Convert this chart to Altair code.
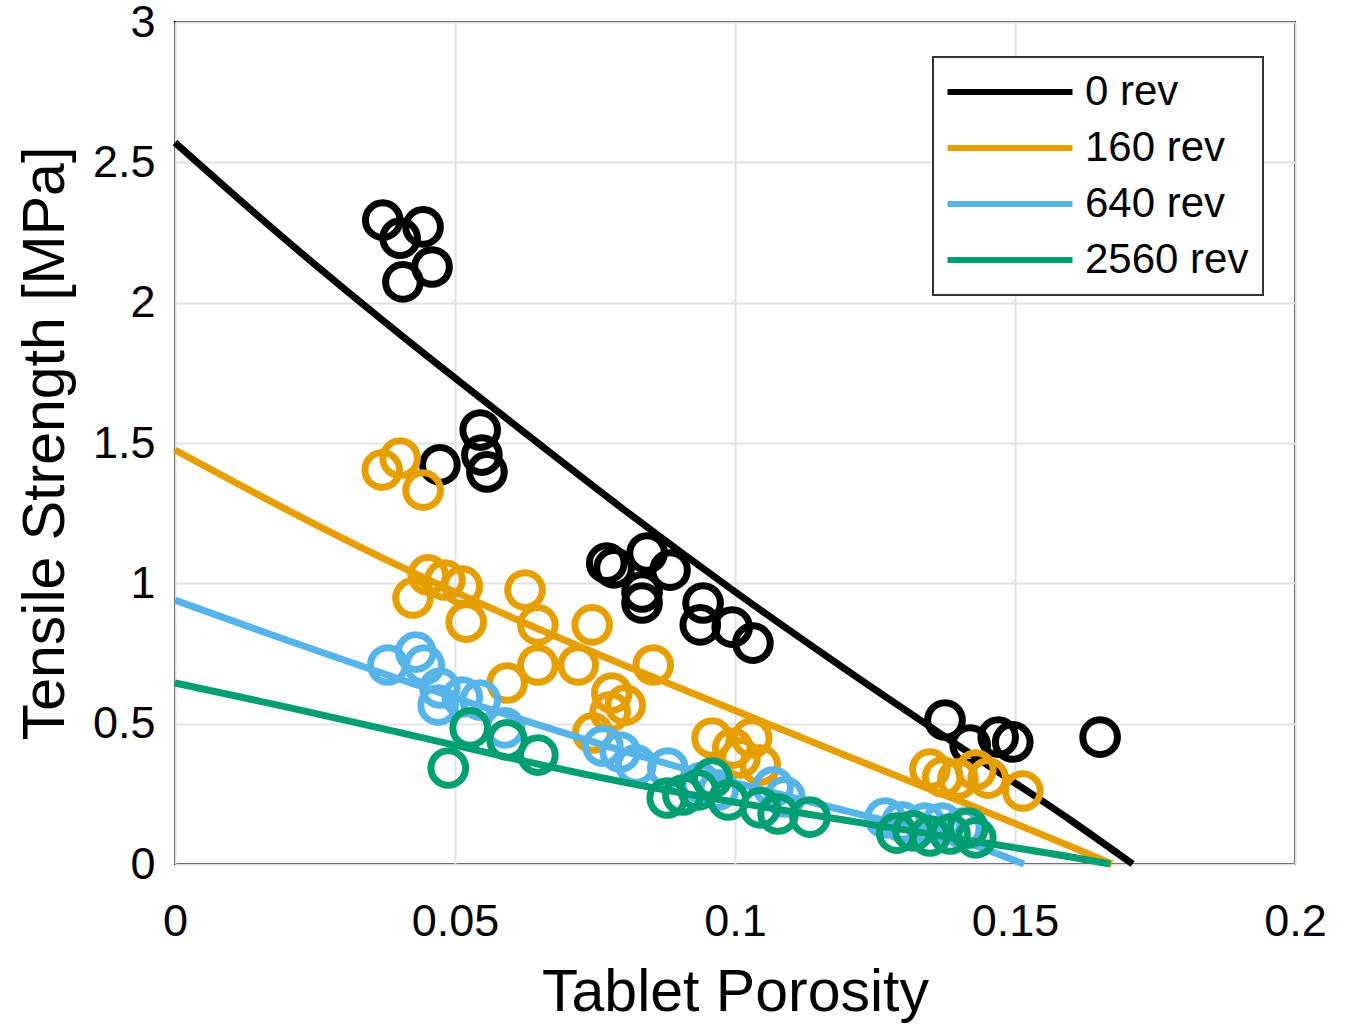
import altair as alt
import pandas as pd

series = ["0 rev", "160 rev", "640 rev", "2560 rev"]
colors = ["#000000", "#E69F00", "#56B4E9", "#009E73"]

# measured points
black_x = [0.0371, 0.0402, 0.0443, 0.0407, 0.0459, 0.0473, 0.0545, 0.0548, 0.0557,
           0.0771, 0.0784, 0.0843, 0.0884, 0.0834, 0.0834, 0.0943, 0.0938, 0.0995, 0.1032,
           0.1375, 0.1420, 0.1470, 0.1496, 0.1652]
black_y = [2.294, 2.230, 2.270, 2.074, 2.127, 1.422, 1.546, 1.457, 1.397,
           1.072, 1.055, 1.108, 1.047, 0.969, 0.930, 0.930, 0.852, 0.844, 0.787,
           0.513, 0.424, 0.452, 0.435, 0.452]

orange_x = [0.0370, 0.0402, 0.0443, 0.0425, 0.0452, 0.0482, 0.0513, 0.0520, 0.0625, 0.0648,
            0.0593, 0.0648, 0.0720, 0.0745, 0.0780, 0.0804, 0.0854, 0.0746, 0.0777,
            0.0959, 0.0996, 0.1030, 0.1045, 0.1009,
            0.1348, 0.1371, 0.1398, 0.1430, 0.1452, 0.1514]
orange_y = [1.404, 1.446, 1.332, 0.948, 1.030, 1.012, 0.990, 0.862, 0.976, 0.852,
            0.645, 0.709, 0.709, 0.852, 0.609, 0.566, 0.709, 0.467, 0.542,
            0.449, 0.413, 0.449, 0.353, 0.378,
            0.338, 0.310, 0.303, 0.335, 0.306, 0.260]

blue_x = [0.0380, 0.0430, 0.0445, 0.0473, 0.0470, 0.0513, 0.0545, 0.0589,
          0.0764, 0.0795, 0.0823, 0.0880, 0.0938, 0.0970, 0.1068, 0.1089,
          0.1268, 0.1298, 0.1339, 0.1370, 0.1405]
blue_y = [0.709, 0.755, 0.709, 0.627, 0.566, 0.595, 0.584, 0.485,
          0.420, 0.399, 0.353, 0.342, 0.289, 0.264, 0.274, 0.239,
          0.164, 0.150, 0.146, 0.146, 0.128]

green_x = [0.0488, 0.0527, 0.0593, 0.0648,
           0.0879, 0.0907, 0.0934, 0.0959, 0.0988, 0.1045, 0.1077, 0.1134,
           0.1289, 0.1318, 0.1348, 0.1384, 0.1416, 0.1430]
green_y = [0.342, 0.485, 0.442, 0.388,
           0.235, 0.246, 0.264, 0.306, 0.228, 0.200, 0.178, 0.167,
           0.110, 0.118, 0.100, 0.107, 0.128, 0.093]

# fitted curves
black_fit_x = [0, 0.02, 0.04, 0.06, 0.08, 0.10, 0.12, 0.14, 0.16, 0.171]
black_fit_y = [2.57, 2.22, 1.89, 1.575, 1.265, 0.97, 0.69, 0.42, 0.155, 0.0]
orange_fit_x = [0, 0.02, 0.04, 0.06, 0.08, 0.10, 0.12, 0.14, 0.16, 0.1673]
orange_fit_y = [1.475, 1.262, 1.062, 0.88, 0.71, 0.547, 0.385, 0.225, 0.062, 0.0]
blue_fit_x = [0, 0.02, 0.04, 0.06, 0.08, 0.10, 0.12, 0.14, 0.1516]
blue_fit_y = [0.94, 0.797, 0.659, 0.527, 0.403, 0.29, 0.188, 0.085, 0.0]
green_fit_x = [0, 0.02, 0.04, 0.06, 0.08, 0.10, 0.12, 0.14, 0.16, 0.167]
green_fit_y = [0.645, 0.559, 0.469, 0.377, 0.292, 0.22, 0.155, 0.09, 0.025, 0.0]

pts_x = [black_x, orange_x, blue_x, green_x]
pts_y = [black_y, orange_y, blue_y, green_y]
fit_x = [black_fit_x, orange_fit_x, blue_fit_x, green_fit_x]
fit_y = [black_fit_y, orange_fit_y, blue_fit_y, green_fit_y]

FONT = "Liberation Sans"
color_scale = alt.Scale(domain=series, range=colors)
x_enc = alt.X("p:Q", scale=alt.Scale(domain=[0, 0.2], nice=False),
              axis=alt.Axis(values=[0, 0.05, 0.1, 0.15, 0.2], format="~g",
                            title="Tablet Porosity", labelFlush=False,
                            titleX=560, titleY=146, titleBaseline="alphabetic",
                            titleAlign="center"))
y_enc = alt.Y("s:Q", scale=alt.Scale(domain=[0, 3], nice=False),
              axis=alt.Axis(values=[0, 0.5, 1, 1.5, 2, 2.5, 3], format="~g",
                            title="Tensile Strength [MPa]", labelFlush=False,
                            titleX=-112, titleY=421, titleAngle=270,
                            titleBaseline="alphabetic", titleAlign="center"))

# legend line symbol: a horizontal stroke drawn from the symbol's left edge
legend = alt.Legend(title=None, orient="none", legendX=758, legendY=35,
                    symbolType="M-1.64,0H8.36", symbolSize=625, symbolStrokeWidth=6,
                    labelFontSize=42, labelFont=FONT, labelColor="black",
                    padding=14, strokeColor="#333333", fillColor="white",
                    rowPadding=14, labelOffset=96, labelLimit=400)
color_enc = alt.Color("series:N", scale=color_scale, legend=legend)

layers = []
for i, name in enumerate(series):
    dp = pd.DataFrame({"p": pts_x[i], "s": pts_y[i], "series": name})
    df = pd.DataFrame({"p": fit_x[i], "s": fit_y[i], "series": name})
    layers.append(
        alt.Chart(dp).mark_point(shape="circle", filled=False, size=1200,
                                 strokeWidth=7, opacity=1)
        .encode(x=x_enc, y=y_enc, color=color_enc)
    )
    layers.append(
        alt.Chart(df).mark_line(strokeWidth=7, interpolate="monotone")
        .encode(x=x_enc, y=y_enc, color=color_enc)
    )

chart = (
    alt.layer(*layers)
    .properties(width=1120, height=842,
                autosize=alt.AutoSizeParams(type="none"),
                padding={"left": 175, "top": 22, "right": 50, "bottom": 161},
                background="white")
    .configure_view(stroke="black", strokeWidth=2)
    .configure_axis(labelFont=FONT, labelFontSize=45, labelColor="black",
                    titleFont=FONT, titleFontSize=59, titleColor="black",
                    titleFontWeight="normal",
                    gridColor="#e2e2e2", gridWidth=2, gridOpacity=1,
                    domain=False, tickSize=0)
    .configure_axisX(labelPadding=35)
    .configure_axisY(labelPadding=20)
    .configure_legend(strokeWidth=2)
)

chart.save("out.html", embed_options={"renderer": "svg", "actions": False})
